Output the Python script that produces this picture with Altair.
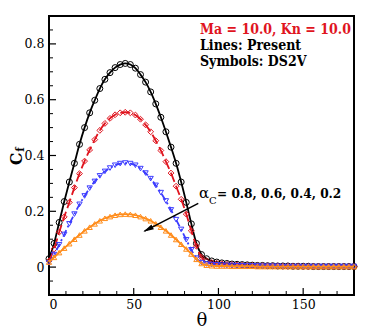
import altair as alt
import pandas as pd

# ---------------- data ----------------
theta = list(range(0, 181, 3))

cf_08 = [0.03, 0.085, 0.16, 0.235, 0.305, 0.372, 0.44, 0.50, 0.553, 0.598, 0.64,
         0.673, 0.697, 0.715, 0.726, 0.73, 0.726, 0.713, 0.69, 0.663, 0.628,
         0.585, 0.537, 0.485, 0.43, 0.372, 0.305, 0.232, 0.155, 0.085, 0.045,
         0.03, 0.022,
         0.018, 0.015, 0.013, 0.011, 0.010, 0.009, 0.008, 0.007, 0.006, 0.006,
         0.005, 0.005, 0.004, 0.004, 0.004, 0.003, 0.003, 0.003, 0.003, 0.002,
         0.002, 0.002, 0.002, 0.002, 0.002, 0.002, 0.002, 0.002]

cf_06 = [0.022, 0.065, 0.125, 0.18, 0.232, 0.285, 0.335, 0.38, 0.42, 0.457, 0.49,
         0.515, 0.533, 0.546, 0.553, 0.555, 0.553, 0.545, 0.53, 0.51, 0.485,
         0.453, 0.418, 0.378, 0.337, 0.29, 0.243, 0.19, 0.13, 0.075, 0.035,
         0.022, 0.016,
         0.014, 0.012, 0.010, 0.009, 0.008, 0.007, 0.006, 0.006, 0.005, 0.005,
         0.004, 0.004, 0.004, 0.003, 0.003, 0.003, 0.003, 0.002, 0.002, 0.002,
         0.002, 0.002, 0.002, 0.002, 0.002, 0.002, 0.002, 0.002]

cf_04 = [0.015, 0.045, 0.08, 0.117, 0.155, 0.19, 0.225, 0.255, 0.283, 0.307, 0.327,
         0.343, 0.355, 0.365, 0.371, 0.373, 0.371, 0.365, 0.353, 0.337, 0.317,
         0.293, 0.267, 0.237, 0.205, 0.17, 0.135, 0.098, 0.062, 0.032, 0.016,
         0.011, 0.009,
         0.008, 0.007, 0.006, 0.006, 0.005, 0.005, 0.004, 0.004, 0.004, 0.003,
         0.003, 0.003, 0.003, 0.002, 0.002, 0.002, 0.002, 0.002, 0.002, 0.002,
         0.002, 0.002, 0.002, 0.002, 0.002, 0.002, 0.002, 0.002]

cf_02 = [0.018, 0.035, 0.052, 0.068, 0.084, 0.1, 0.115, 0.13, 0.143, 0.155, 0.166,
         0.175, 0.181, 0.186, 0.189, 0.19, 0.189, 0.186, 0.181, 0.174, 0.166,
         0.155, 0.143, 0.13, 0.115, 0.099, 0.082, 0.065, 0.047, 0.028, 0.013,
         0.007, 0.005,
         0.004, 0.004, 0.004, 0.003, 0.003, 0.003, 0.003, 0.003, 0.002, 0.002,
         0.002, 0.002, 0.002, 0.002, 0.002, 0.002, 0.002, 0.002, 0.002, 0.002,
         0.002, 0.002, 0.002, 0.002, 0.002, 0.002, 0.002, 0.002]

y_major = [0, 0.2, 0.4, 0.6, 0.8]
y_minor = [-0.05, 0.05, 0.1, 0.15, 0.25, 0.3, 0.35, 0.45, 0.5, 0.55, 0.65, 0.7, 0.75, 0.85]
x_major = [0, 50, 100, 150]
x_minor = [10, 20, 30, 40, 60, 70, 80, 90, 110, 120, 130, 140, 160, 170]

# ---------------- styling ----------------
W, H = 305, 279
SERIF = "DejaVu Serif"
SERIF_C = "DejaVu Serif Condensed, DejaVu Serif"
RED = "#e0141e"
BLUE = "#3c3cff"
ORANGE = "#ff8c1a"

xs = alt.Scale(domain=[0, 180], nice=False, zero=False)
ys = alt.Scale(domain=[-0.1, 0.9], nice=False, zero=False)

xaxis = alt.Axis(values=x_major, ticks=False, domain=False, grid=False,
                 labelFont=SERIF, labelFontSize=12.5, labelColor="black", labelPadding=3,
                 title="θ", titleFont=SERIF, titleFontSize=18, titleFontWeight="normal",
                 titleColor="black", titlePadding=1)
yaxis = alt.Axis(values=y_major, ticks=False, domain=False, grid=False,
                 labelFont=SERIF, labelFontSize=12.5, labelColor="black", labelPadding=5,
                 format=".1~f", title=None)


def X(field):
    return alt.X(field, type="quantitative", scale=xs, axis=xaxis)


def Y(field):
    return alt.Y(field, type="quantitative", scale=ys, axis=yaxis)


layers = []

# ticks (inward)
layers.append(alt.Chart(pd.DataFrame({"v": y_major})).mark_rule(color="black", strokeWidth=1.2)
              .encode(y=Y("v"), x=alt.value(0), x2=alt.value(7)))
layers.append(alt.Chart(pd.DataFrame({"v": y_minor})).mark_rule(color="black", strokeWidth=1)
              .encode(y=Y("v"), x=alt.value(0), x2=alt.value(4)))
layers.append(alt.Chart(pd.DataFrame({"v": x_major})).mark_rule(color="black", strokeWidth=1.2)
              .encode(x=X("v"), y=alt.value(H), y2=alt.value(H - 7)))
layers.append(alt.Chart(pd.DataFrame({"v": x_minor})).mark_rule(color="black", strokeWidth=1)
              .encode(x=X("v"), y=alt.value(H), y2=alt.value(H - 4)))

series = [
    (cf_08, "black", None, "circle", 36),
    (cf_06, RED, [10, 4], "diamond", 34),
    (cf_04, BLUE, [7, 3, 2, 3], "triangle-down", 28),
    (cf_02, ORANGE, None, "triangle-up", 28),
]
for vals, color, dash, shape, size in series:
    df = pd.DataFrame({"theta": theta, "cf": vals})
    kw = dict(color=color, strokeWidth=1.8, interpolate="monotone")
    if dash is not None:
        kw["strokeDash"] = dash
    layers.append(alt.Chart(df).mark_line(**kw).encode(x=X("theta"), y=Y("cf")))
    layers.append(alt.Chart(df).mark_point(shape=shape, color=color, size=size,
                                           strokeWidth=1, filled=False, opacity=1)
                  .encode(x=X("theta"), y=Y("cf")))


def label(text, x, y, size, color="black", weight="bold", angle=0, align="left",
          baseline="alphabetic", font=SERIF_C):
    kw = dict(font=font, fontSize=size, fontWeight=weight, color=color, align=align,
              baseline=baseline)
    if angle:
        kw["angle"] = angle
    return (alt.Chart(pd.DataFrame({"t": [text]})).mark_text(**kw)
            .encode(text="t:N", x=alt.value(x), y=alt.value(y)))


layers.append(label("Ma = 10.0, Kn = 10.0", 151, 17.5, 14, color=RED))
layers.append(label("Lines: Present", 151, 34, 14))
layers.append(label("Symbols: DS2V", 151, 49.7, 14))
layers.append(label("α", 150, 182, 15, weight="normal", font=SERIF))
layers.append(label("C", 160, 188, 10, weight="normal", font=SERIF))
layers.append(label("= 0.8, 0.6, 0.4, 0.2", 168, 182.3, 13.5))
layers.append(label("C", -32, 143, 16, angle=270, align="center", baseline="middle", font=SERIF))
layers.append(label("f", -28.5, 133.5, 10.5, angle=270, align="center", baseline="middle", font=SERIF))

# arrow
layers.append(alt.Chart(pd.DataFrame({"a": [0]})).mark_rule(color="black", strokeWidth=1.5)
              .encode(x=alt.value(149.3), y=alt.value(187.3),
                      x2=alt.value(95.5), y2=alt.value(215.1)))
layers.append(alt.Chart(pd.DataFrame({"a": [0]}))
              .mark_point(shape="M1,0 L-1,-0.5 L-1,0.5 Z", angle=152.7, size=110,
                          filled=True, color="black", opacity=1)
              .encode(x=alt.value(99.0), y=alt.value(213.3)))

chart = alt.layer(*layers).properties(
    width=W, height=H,
    autosize=alt.AutoSizeParams(type="none"),
    padding={"left": 41, "top": 8, "right": 12, "bottom": 45},
    background="white",
).configure_view(stroke="black", strokeWidth=2)

chart.save("out.html", embed_options={"renderer": "svg", "actions": False})
